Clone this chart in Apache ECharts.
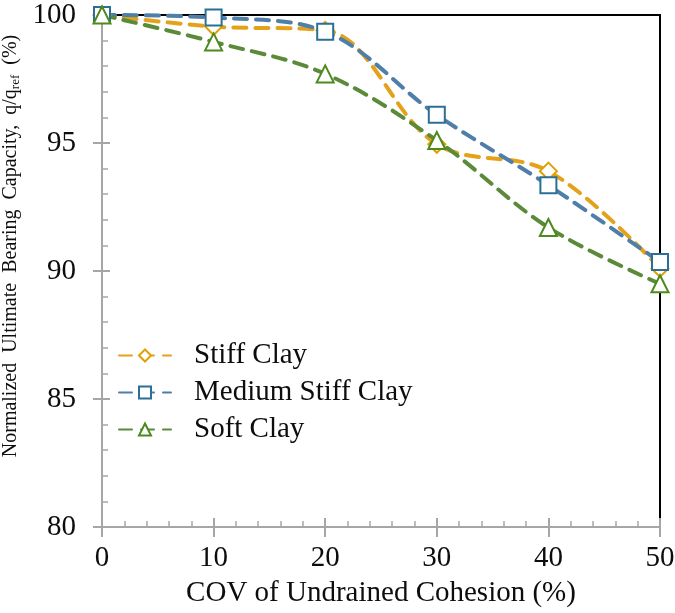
<!DOCTYPE html>
<html>
<head>
<meta charset="utf-8">
<script src="https://cdn.jsdelivr.net/npm/echarts@6/dist/echarts.min.js"></script>
<style>
html, body { margin: 0; padding: 0; background: #fff; }
#chart { width: 675px; height: 613px; }
</style>
</head>
<body>
<div id="chart"></div>
<script>
var cov = [0, 10, 20, 30, 40, 50];
var stiffClay = [100, 99.55, 99.4, 94.95, 93.9, 90.1];
var mediumStiffClay = [100, 99.9, 99.35, 96.1, 93.35, 90.35];
var softClay = [100, 98.95, 97.7, 95.1, 91.7, 89.5];
var seriesNames = ['Stiff Clay', 'Medium Stiff Clay', 'Soft Clay'];

var font = '"Liberation Serif", "Times New Roman", serif';
var axisGrey = '#a6a6a6';
var textColor = '#0d0d0d';

function pairs(ys) {
  var out = [];
  for (var i = 0; i < cov.length; ++i) {
    out.push([cov[i], ys[i]]);
  }
  return out;
}

function makeSeries(name, data, symbol, lineColor, markColor, size) {
  return {
    name: name,
    type: 'line',
    data: pairs(data),
    smooth: 0.35,
    symbol: symbol,
    symbolSize: size,
    showAllSymbol: true,
    lineStyle: { color: lineColor, width: 4, type: [13, 9], cap: 'round' },
    itemStyle: { color: markColor, borderColor: markColor, borderWidth: 2.2 },
    z: 3
  };
}

// plain value axis, only used for ticks / frame lines
function bareAxis(min, max, interval, position, gridIndex, extra) {
  var ax = {
    type: 'value',
    gridIndex: gridIndex,
    min: min,
    max: max,
    interval: interval,
    position: position,
    axisLine: { show: false, onZero: false },
    axisTick: { show: false },
    axisLabel: { show: false },
    splitLine: { show: false }
  };
  for (var k in extra) ax[k] = extra[k];
  return ax;
}

var gridBox = { left: 102, right: 15, top: 15, bottom: 86, containLabel: false, outerBoundsMode: 'none' };

var myChart = echarts.init(document.getElementById('chart'));
var option = {
  animation: false,
  grid: [gridBox, gridBox],
  legend: {
    orient: 'vertical',
    left: 113,
    top: 336,
    itemWidth: 52,
    itemHeight: 15,
    itemGap: 8,
    data: seriesNames,
    textStyle: { fontFamily: font, fontSize: 29, color: textColor, padding: [0, 0, 0, 18] }
  },
  xAxis: [{
    type: 'value',
    gridIndex: 0,
    min: 0,
    max: 50,
    interval: 10,
    position: 'bottom',
    name: 'COV of Undrained Cohesion (%)',
    nameLocation: 'middle',
    nameGap: 52,
    nameTextStyle: { fontFamily: font, fontSize: 29, color: textColor },
    axisLine: { onZero: false, lineStyle: { color: axisGrey, width: 2 } },
    axisTick: { inside: true, length: 9, lineStyle: { color: axisGrey, width: 2 } },
    minorTick: { show: true, splitNumber: 5, length: 6, lineStyle: { color: axisGrey, width: 1.5 } },
    axisLabel: { fontFamily: font, fontSize: 29, color: textColor, margin: 17 },
    splitLine: { show: false }
  },
  bareAxis(0, 50, 10, 'top', 0, { axisLine: { onZero: false, lineStyle: { color: '#000', width: 2 } } }),
  bareAxis(0, 50, 10, 'bottom', 1, { axisTick: { inside: false, length: 10, lineStyle: { color: axisGrey, width: 2 } } })
  ],
  yAxis: [{
    type: 'value',
    gridIndex: 0,
    min: 80,
    max: 100,
    interval: 5,
    position: 'left',
    name: 'Normalized  Ultimate  Bearing  Capacity,  q/q{s|ref}  (%)',
    nameLocation: 'middle',
    nameGap: 77,
    nameRotate: 90,
    nameTextStyle: {
      fontFamily: font, fontSize: 20, color: textColor,
      padding: [0, 0, 0, 50],
      rich: { s: { fontFamily: font, fontSize: 13, color: textColor, padding: [9, 0, 0, 0] } }
    },
    axisLine: { onZero: false, lineStyle: { color: axisGrey, width: 2 } },
    axisTick: { inside: true, length: 8, lineStyle: { color: axisGrey, width: 2 } },
    minorTick: { show: true, splitNumber: 5, length: 6, lineStyle: { color: axisGrey, width: 1.5 } },
    axisLabel: { fontFamily: font, fontSize: 29, color: textColor, margin: 26 },
    splitLine: { show: false }
  },
  bareAxis(80, 100, 5, 'right', 0, { axisLine: { onZero: false, lineStyle: { color: '#000', width: 2 } } }),
  bareAxis(80, 100, 5, 'left', 1, { axisTick: { inside: false, length: 9, lineStyle: { color: axisGrey, width: 2 } } })
  ],
  series: [
    makeSeries(seriesNames[0], stiffClay, 'emptyDiamond', '#e3a21a', '#e0a000', 17),
    makeSeries(seriesNames[1], mediumStiffClay, 'emptyRect', '#4f7fa8', '#2b6f96', 16),
    makeSeries(seriesNames[2], softClay, 'emptyTriangle', '#5a8a3a', '#4c8a1e', 17)
  ]
};
myChart.setOption(option);
</script>
</body>
</html>
